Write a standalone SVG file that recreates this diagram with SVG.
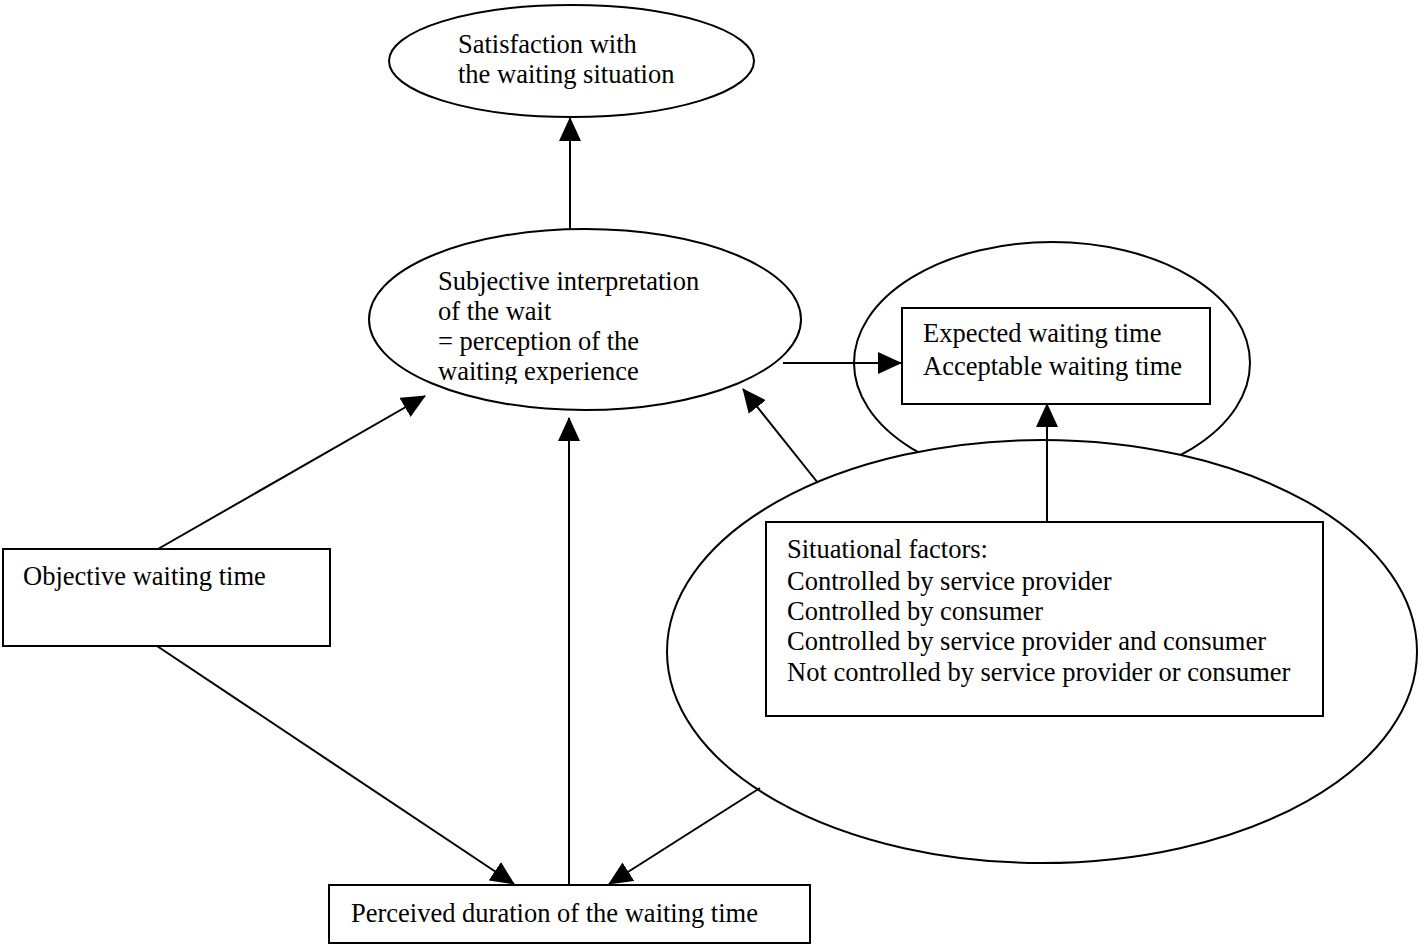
<svg xmlns="http://www.w3.org/2000/svg" width="1419" height="946" viewBox="0 0 1419 946">
<style>
.shape{fill:#fff;stroke:#000;stroke-width:2}
.lbl{font-family:"Liberation Serif","Times New Roman",serif;font-size:26.5px;fill:#000}
.conn line{stroke:#000;stroke-width:2;marker-end:url(#ah)}
</style>
<defs>
<marker id="ah" markerUnits="userSpaceOnUse" markerWidth="24" markerHeight="22" refX="23" refY="11" orient="auto" viewBox="0 0 24 22">
<path d="M0,0 L24,11 L0,22 z" fill="#000"/>
</marker>
<clipPath id="clipMid"><rect x="360" y="220" width="450" height="164"/></clipPath>
</defs>
<rect width="1419" height="946" fill="#fff"/>

<g id="satisfaction">
<ellipse class="shape" cx="571.5" cy="61" rx="182.5" ry="56"/>
<text class="lbl" x="458" y="53">Satisfaction with</text>
<text class="lbl" x="458" y="83">the waiting situation</text>
</g>

<g id="subjective">
<ellipse class="shape" cx="585" cy="319.5" rx="216" ry="90.5"/>
<g clip-path="url(#clipMid)">
<text class="lbl" x="438" y="290">Subjective interpretation</text>
<text class="lbl" x="438" y="320">of the wait</text>
<text class="lbl" x="438" y="350">= perception of the</text>
<text class="lbl" x="438" y="380">waiting experience</text>
</g>
</g>

<g id="expectations">
<ellipse class="shape" cx="1052" cy="363" rx="198" ry="121"/>
<rect class="shape" x="902" y="308" width="308" height="96"/>
<text class="lbl" x="923" y="342">Expected waiting time</text>
<text class="lbl" x="923" y="375">Acceptable waiting time</text>
</g>

<g id="situational">
<ellipse class="shape" cx="1042" cy="651.5" rx="375" ry="211.5"/>
<rect class="shape" x="766" y="522" width="557" height="194"/>
<text class="lbl" x="787" y="558">Situational factors:</text>
<text class="lbl" x="787" y="590">Controlled by service provider</text>
<text class="lbl" x="787" y="620">Controlled by consumer</text>
<text class="lbl" x="787" y="650">Controlled by service provider and consumer</text>
<text class="lbl" x="787" y="681">Not controlled by service provider or consumer</text>
</g>

<g id="objective">
<rect class="shape" x="3" y="549" width="327" height="97"/>
<text class="lbl" x="23" y="585">Objective waiting time</text>
</g>

<g id="perceived">
<rect class="shape" x="329" y="885" width="481" height="58"/>
<text class="lbl" x="351" y="922">Perceived duration of the waiting time</text>
</g>

<g id="connectors" class="conn">
<line x1="570" y1="229" x2="570" y2="118"/>
<line x1="783" y1="363" x2="901" y2="363"/>
<line x1="158" y1="549" x2="425" y2="396"/>
<line x1="569" y1="884" x2="569" y2="418"/>
<line x1="818" y1="483" x2="743" y2="389"/>
<line x1="1047" y1="521" x2="1047" y2="404"/>
<line x1="157" y1="646" x2="514" y2="884"/>
<line x1="760" y1="788" x2="609" y2="884"/>
</g>
</svg>
